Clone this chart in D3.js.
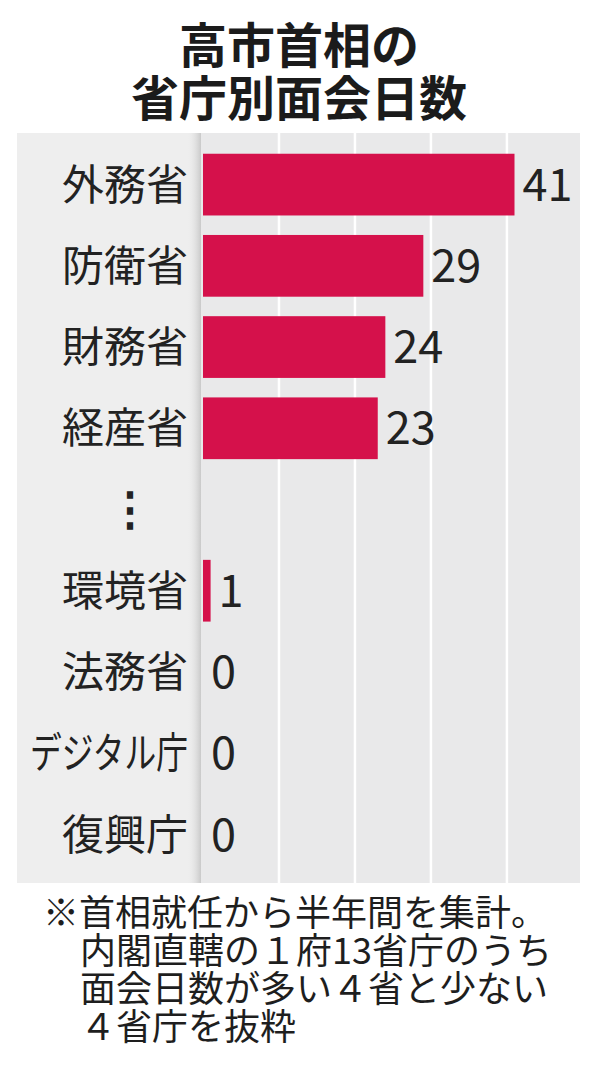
<!DOCTYPE html>
<html>
<head>
<meta charset="utf-8">
<script src="https://cdn.jsdelivr.net/npm/d3@7"></script>
<style>
  html, body { margin: 0; padding: 0; background: #ffffff; }
  body { position: relative; width: 600px; height: 1075px; overflow: hidden; }
  svg { display: block; }
  text { font-family: "Noto Sans CJK JP", "Noto Sans", sans-serif; }
  #note { position: absolute; left: 0; top: 0; font-family: "Noto Sans CJK JP", sans-serif;
          font-size: 36px; color: #1e1e1e; }
  #note div { position: absolute; white-space: nowrap; height: 38px; line-height: 38px; }
</style>
</head>
<body>
<script>
// ---- data ----
const titleLines = ["高市首相の", "省庁別面会日数"];
const categories = ["外務省", "防衛省", "財務省", "経産省", "⋮", "環境省", "法務省", "デジタル庁", "復興庁"];
const values = [41, 29, 24, 23, null, 1, 0, 0, 0];
const gridTicks = [10, 20, 30, 40];
const noteLines = [
  "※首相就任から半年間を集計。",
  "内閣直轄の１府13省庁のうち",
  "面会日数が多い４省と少ない",
  "４省庁を抜粋"
];

// ---- layout ----
const W = 600, H = 1075;
const panel = { x0: 17, x1: 580, y0: 133, y1: 883 };
const labelColRight = 201;
const labelRight = 188;
const labelMaxWidth = 158;

const svg = d3.select("body").append("svg")
  .attr("width", W).attr("height", H);

const defs = svg.append("defs");
const grad = defs.append("linearGradient").attr("id", "shadow")
  .attr("x1", "0").attr("x2", "1").attr("y1", "0").attr("y2", "0");
grad.append("stop").attr("offset", "0").attr("stop-color", "#eeeeee").attr("stop-opacity", 0);
grad.append("stop").attr("offset", "1").attr("stop-color", "#c9c9c9").attr("stop-opacity", 1);

// title
svg.append("g").selectAll("text").data(titleLines).join("text")
  .attr("x", 299)
  .attr("y", (d, i) => 63 + i * 53)
  .attr("text-anchor", "middle")
  .attr("font-size", 48)
  .attr("font-weight", 700)
  .attr("fill", "#1b1b1b")
  .text(d => d);

// panel backgrounds
svg.append("rect")
  .attr("x", panel.x0).attr("y", panel.y0)
  .attr("width", panel.x1 - panel.x0).attr("height", panel.y1 - panel.y0)
  .attr("fill", "#e9e9ea");
svg.append("rect")
  .attr("x", panel.x0).attr("y", panel.y0)
  .attr("width", labelColRight - panel.x0).attr("height", panel.y1 - panel.y0)
  .attr("fill", "#eeeeee");
svg.append("rect")
  .attr("x", labelColRight - 14).attr("y", panel.y0)
  .attr("width", 14).attr("height", panel.y1 - panel.y0)
  .attr("fill", "url(#shadow)");

// scales
const x = d3.scaleLinear().domain([0, 41]).range([203, 514.5]);
const y = d3.scaleBand().domain(categories).range([144, 875])
  .paddingInner(0.24).paddingOuter(0.12);

// grid lines
svg.append("g").selectAll("line").data(gridTicks).join("line")
  .attr("x1", d => x(d)).attr("x2", d => x(d))
  .attr("y1", panel.y0).attr("y2", panel.y1)
  .attr("stroke", "#ffffff").attr("stroke-width", 2.5);

const rows = categories.map((c, i) => ({ c, v: values[i] }));

// bars
svg.append("g").selectAll("rect").data(rows.filter(d => d.v != null && d.v > 0)).join("rect")
  .attr("x", x(0))
  .attr("y", d => y(d.c))
  .attr("width", d => x(d.v) - x(0))
  .attr("height", y.bandwidth())
  .attr("fill", "#d5114b");

// category labels (positioned by transform so long labels can be condensed)
svg.append("g").selectAll("text").data(rows).join("text")
  .attr("x", 0).attr("y", 0)
  .attr("dy", d => d.v == null ? "0.33em" : "0.36em")
  .attr("text-anchor", d => d.v == null ? "middle" : "end")
  .attr("font-size", d => d.v == null ? 46 : 42)
  .attr("font-weight", d => d.v == null ? 700 : 400)
  .attr("fill", "#222222")
  .text(d => d.c)
  .each(function (d) {
    const len = this.getComputedTextLength();
    const k = len > labelMaxWidth ? labelMaxWidth / len : 1;
    const tx = d.v == null ? 130 : labelRight;
    const ty = y(d.c) + y.bandwidth() / 2;
    d3.select(this).attr("transform", `translate(${tx},${ty}) scale(${k},1)`);
  });

// value labels
svg.append("g").selectAll("text").data(rows.filter(d => d.v != null)).join("text")
  .attr("x", d => x(d.v) + 8)
  .attr("y", d => y(d.c) + y.bandwidth() / 2)
  .attr("dy", "0.36em")
  .attr("font-size", 45)
  .attr("fill", "#222222")
  .text(d => d.v);

// note: HTML lines with a tight 38px line box, baselines at ~926 + 38*i
d3.select("body").append("div").attr("id", "note")
  .selectAll("div").data(noteLines).join("div")
  .style("left", (d, i) => (i === 0 ? 43 : 80) + "px")
  .style("top", (d, i) => (891 + i * 38) + "px")
  .text(d => d);
</script>
</body>
</html>
